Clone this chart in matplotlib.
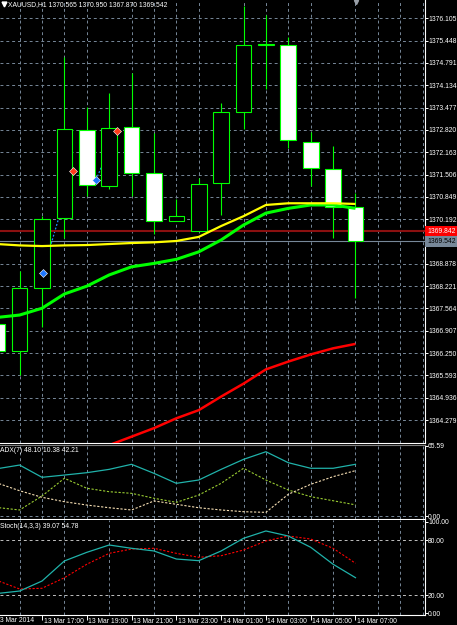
import numpy as np
import matplotlib
matplotlib.use('Agg')
import matplotlib.pyplot as plt
from matplotlib import font_manager as fm
from matplotlib.transforms import blended_transform_factory, ScaledTranslation

# ---------------- data ----------------
symbol_title = 'XAUUSD,H1 1370.565 1370.950 1367.870 1369.542'
bar_index = np.arange(17)  # 13 Mar 15:00 ... 14 Mar 07:00 (H1)

opens = [1367.11, 1366.32, 1368.16, 1370.22, 1372.81, 1371.17, 1372.90, 1371.56, 1370.13,
         1369.84, 1371.25, 1373.34, 1375.32, 1375.32, 1372.47, 1371.66, 1370.565]
highs = [1367.30, 1368.67, 1370.28, 1374.97, 1373.49, 1373.90, 1374.50, 1372.73, 1370.78,
         1371.40, 1373.62, 1376.47, 1376.20, 1375.56, 1372.75, 1372.36, 1370.950]
lows = [1366.00, 1365.61, 1367.03, 1369.63, 1370.88, 1371.08, 1370.88, 1369.76, 1370.13,
        1369.84, 1370.32, 1372.84, 1374.02, 1372.29, 1371.18, 1369.63, 1367.870]
closes = [1366.32, 1368.16, 1370.19, 1372.84, 1371.20, 1372.87, 1371.54, 1370.14, 1370.28,
          1371.23, 1373.34, 1375.32, 1375.35, 1372.52, 1371.69, 1370.54, 1369.542]

ma_yellow = [1369.46, 1369.42, 1369.40, 1369.42, 1369.43, 1369.46, 1369.49, 1369.51, 1369.55,
             1369.67, 1369.99, 1370.28, 1370.61, 1370.66, 1370.66, 1370.66, 1370.64]
ma_green = [1367.30, 1367.37, 1367.57, 1367.99, 1368.22, 1368.55, 1368.79, 1368.89, 1369.01,
            1369.23, 1369.58, 1370.02, 1370.37, 1370.51, 1370.61, 1370.61, 1370.51]
ma_red = [np.nan, np.nan, np.nan, np.nan, np.nan, 1363.54, 1363.79, 1364.04, 1364.33,
          1364.57, 1364.97, 1365.35, 1365.77, 1366.00, 1366.21, 1366.39, 1366.52]

ask_price = 1369.842
bid_price = 1369.542

trade_open_x = [2.03, 4.41]
trade_open_price = [1368.62, 1371.35]
trade_close_x = [3.37, 5.34]
trade_close_price = [1371.62, 1372.79]

price_ticks = [1376.105, 1375.448, 1374.791, 1374.134, 1373.477, 1372.820, 1372.163,
               1371.506, 1370.849, 1370.192, 1369.535, 1368.878, 1368.221, 1367.564,
               1366.907, 1366.250, 1365.593, 1364.936, 1364.279]

adx_label = 'ADX(7) 48.10 10.38 42.21'
adx_main = [44.0, 47.4, 36.0, 38.1, 40.3, 43.4, 48.1, 39.7, 30.4, 33.5, 43.4, 52.7, 59.8,
            49.6, 44.4, 44.4, 48.10]
adx_plus = [7.9, 5.6, 18.6, 35.1, 25.8, 22.6, 21.1, 16.5, 12.7, 19.5, 30.4, 44.4, 33.5,
            24.2, 18.0, 14.2, 10.38]
adx_minus = [30.7, 23.5, 17.4, 13.3, 10.2, 7.7, 5.6, 14.0, 10.9, 7.7, 5.6, 4.0, 3.4,
             20.2, 29.5, 36.6, 42.21]
adx_ticks = [0.0, 65.59]

stoch_label = 'Stoch(14,3,3) 39.07 54.78'
stoch_main = [21.8, 24.5, 35.4, 57.3, 66.7, 74.7, 71.1, 68.2, 59.4, 57.6, 68.2, 82.0, 90.0,
              84.5, 72.2, 53.7, 39.07]
stoch_signal = [36.0, 26.7, 27.5, 39.0, 53.7, 65.6, 70.3, 71.1, 65.6, 61.3, 63.0, 69.2, 79.1,
                84.5, 81.2, 71.1, 54.78]
stoch_ticks = [0, 20, 80, 100]
stoch_levels = [20, 80]

first_time_label = '13 Mar 2014'
time_tick_pos = [2, 4, 6, 8, 10, 12, 14, 16]
time_tick_labels = ['13 Mar 17:00', '13 Mar 19:00', '13 Mar 21:00', '13 Mar 23:00',
                    '14 Mar 01:00', '14 Mar 03:00', '14 Mar 05:00', '14 Mar 07:00']

# ---------------- style ----------------
avail = {f.name for f in fm.fontManager.ttflist}
FONT = next(f for f in ['Liberation Sans Narrow', 'Liberation Sans', 'DejaVu Sans'] if f in avail)
plt.rcParams['font.family'] = FONT

W, H = 457, 625
GRID = '#778899'
GRID_LS = (0, (3, 3))
LIME = '#00ff00'

def px_rect(x0, y0, x1, y1):
    return [x0 / W, 1 - y1 / H, (x1 - x0) / W, (y1 - y0) / H]

fig = plt.figure(figsize=(W / 100, H / 100), dpi=100, facecolor='black')

# fit the font size so that the price labels fit in the right margin (~28 px)
_r = fig.canvas.get_renderer()
_t = fig.text(0, 0, '1376.105', fontsize=10)
_w = _t.get_window_extent(_r).width
_t.remove()
FS = min(5.8, 10 * 28.0 / _w)

ax_main = fig.add_axes(px_rect(0, 0, 425, 443))
ax_adx = fig.add_axes(px_rect(0, 445, 425, 519))
ax_sto = fig.add_axes(px_rect(0, 520, 425, 615))

XLIM = (0.124, 19.105)
for ax in (ax_main, ax_adx, ax_sto):
    ax.set_facecolor('black')
    ax.set_xlim(*XLIM)
    for s in ('left', 'top'):
        ax.spines[s].set_visible(False)
    for s in ('right', 'bottom'):
        ax.spines[s].set_color('white')
        ax.spines[s].set_linewidth(0.8)
    ax.yaxis.tick_right()
    ax.tick_params(axis='y', which='major', direction='out', length=2.0, width=0.7,
                   colors='white', labelsize=FS, pad=0.2)
    ax.set_xticks(np.arange(1, 20), minor=True)
    ax.grid(axis='x', which='minor', color=GRID, linestyle=GRID_LS, linewidth=0.7)
    ax.tick_params(axis='x', which='minor', length=0)
    ax.set_axisbelow(True)

ax_adx.spines['top'].set_visible(True)
ax_adx.spines['top'].set_color('#808080')
ax_adx.spines['top'].set_linewidth(0.8)

# ---------------- main chart ----------------
ax_main.set_ylim(1363.603, 1376.644)
ax_main.set_yticks(price_ticks)
ax_main.set_yticklabels(['' if abs(v - bid_price) < 0.01 else f'{v:.3f}' for v in price_ticks])
ax_main.grid(axis='y', which='major', color=GRID, linestyle=GRID_LS, linewidth=0.7)
ax_main.tick_params(axis='x', which='major', length=0, labelbottom=False)

# trade lines (behind candles)
for ox, op, cx, cp in zip(trade_open_x, trade_open_price, trade_close_x, trade_close_price):
    ax_main.plot([ox, cx], [op, cp], color='#1e90ff', linestyle=(0, (1.5, 1.5)), lw=0.9, zorder=2)

# candles
body_w = 0.70
for i, o, h, l, c in zip(bar_index, opens, highs, lows, closes):
    ax_main.vlines(i, l, h, color=LIME, lw=0.8, zorder=3)
bottoms = [min(o, c) for o, c in zip(opens, closes)]
heights = [max(abs(c - o), 0.01) for o, c in zip(opens, closes)]
fills = ['black' if c >= o else 'white' for o, c in zip(opens, closes)]
ax_main.bar(bar_index, heights, bottom=bottoms, width=body_w, color=fills,
            edgecolor=LIME, linewidth=0.8, zorder=4)

# trade markers
ax_main.plot(trade_open_x, trade_open_price, linestyle='none', marker='D', ms=3.6,
             mfc='#1e78ff', mec='white', mew=0.4, zorder=6)
ax_main.plot(trade_close_x, trade_close_price, linestyle='none', marker='D', ms=3.6,
             mfc='#ff3a1a', mec='white', mew=0.4, zorder=6)

# moving averages
ax_main.plot(bar_index, ma_red, color='#ff0000', lw=1.8, zorder=5, solid_capstyle='butt')
ax_main.plot(bar_index, ma_green, color='#00ff00', lw=2.2, zorder=5, solid_capstyle='butt')
ax_main.plot(bar_index, ma_yellow, color='#ffff00', lw=1.6, zorder=5, solid_capstyle='butt')

# ask / bid lines
ax_main.axhline(ask_price, color='#8b1010', lw=1.5, zorder=2.5)
ax_main.axhline(bid_price, color=GRID, lw=0.8, zorder=2.5)
tr = blended_transform_factory(ax_main.transAxes, ax_main.transData)
ax_main.text(1.0055, ask_price, f'{ask_price:.3f}', transform=tr, ha='left', va='center',
             fontsize=FS, color='white', zorder=10, clip_on=False,
             bbox=dict(boxstyle='square,pad=0.3', fc='#ff0000', ec='none'))
ax_main.text(1.0055, bid_price, f'{bid_price:.3f}', transform=tr, ha='left', va='center',
             fontsize=FS, color='black', zorder=10, clip_on=False,
             bbox=dict(boxstyle='square,pad=0.3', fc=GRID, ec='none'))

# title and markers at top
ax_main.plot([3.5 / 425], [1 - 3.5 / 443], transform=ax_main.transAxes, marker='v',
             ms=3.5, color='white', clip_on=False, zorder=10)
ax_main.plot([356 / 425], [1 - 1.5 / 443], transform=ax_main.transAxes, marker='v',
             ms=3, color='#9aa0a8', clip_on=False, zorder=10)
fig.text(8 / W, 1 - 4.5 / H, symbol_title, color='white', fontsize=FS, ha='left', va='center')

# ---------------- ADX ----------------
ax_adx.set_ylim(-2.79, 66.06)
ax_adx.set_yticks(adx_ticks)
ax_adx.set_yticklabels([f'{v:.2f}' for v in adx_ticks])
ax_adx.axhline(0, color=GRID, linestyle=GRID_LS, lw=0.7, zorder=1)
ax_adx.tick_params(axis='x', which='major', length=0, labelbottom=False)
ax_adx.plot(bar_index, adx_plus, color='#9acd32', lw=0.8, linestyle=(0, (2, 1.5)), zorder=3)
ax_adx.plot(bar_index, adx_minus, color='#f5deb3', lw=0.8, linestyle=(0, (2, 1.5)), zorder=3)
ax_adx.plot(bar_index, adx_main, color='#20b2aa', lw=0.9, zorder=4)
fig.text(0.5 / W, 1 - 450.7 / H, adx_label, color='white', fontsize=FS, ha='left', va='center')

# ---------------- Stochastic ----------------
ax_sto.set_ylim(-1.64, 101.96)
ax_sto.set_yticks(stoch_ticks)
ax_sto.set_yticklabels([f'{v:.2f}' for v in stoch_ticks])
for lv in stoch_levels:
    ax_sto.axhline(lv, color='#c0c0c0', linestyle=GRID_LS, lw=0.7, zorder=1)
ax_sto.plot(bar_index, stoch_signal, color='#ff0000', lw=0.8, linestyle=(0, (2, 1.5)), zorder=3)
ax_sto.plot(bar_index, stoch_main, color='#20b2aa', lw=0.9, zorder=4)
fig.text(0.5 / W, 1 - 526.7 / H, stoch_label, color='white', fontsize=FS, ha='left', va='center')

ax_sto.set_xticks(time_tick_pos)
ax_sto.set_xticklabels(time_tick_labels, ha='left')
ax_sto.tick_params(axis='x', which='major', length=3.5, width=0.7, colors='white',
                   labelsize=FS, pad=-1.4)
off = ScaledTranslation(1.5 / 100, 0, fig.dpi_scale_trans)
for lab in ax_sto.get_xticklabels():
    lab.set_transform(lab.get_transform() + off)
trx = blended_transform_factory(ax_sto.transData, ax_sto.transAxes)
off_first = ScaledTranslation(-1.5 / 100, 0, fig.dpi_scale_trans)
ax_sto.text(0, 0, first_time_label, transform=trx + off_first, ha='left', va='top',
            fontsize=FS, color='white', clip_on=False)
ax_sto.texts[-1].set_y(-2.1 / 95 - 0.0)  # align with the other time labels

fig.savefig('out.png', dpi=100, facecolor='black')
